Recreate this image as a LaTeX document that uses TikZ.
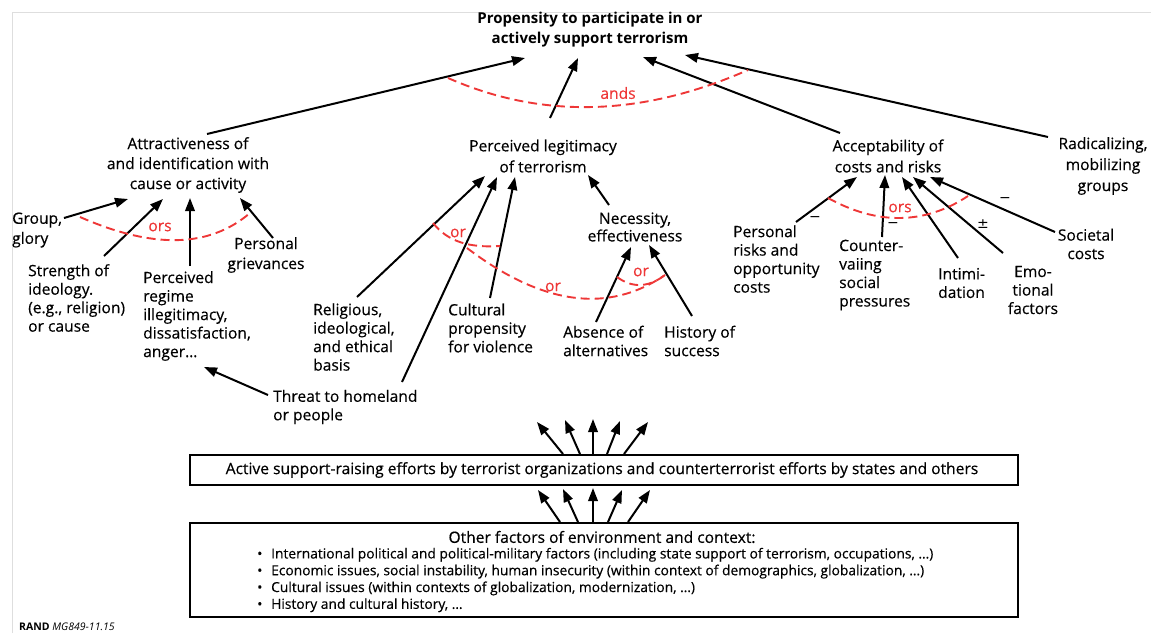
\documentclass[tikz,border=0pt]{standalone}
\usepackage{fontspec}
\setmainfont{Open Sans}[UprightFeatures={FakeBold=0.35}]
\newfontfamily\symf{DejaVu Sans}
\usetikzlibrary{arrows.meta}
\definecolor{orred}{RGB}{238,55,55}
\definecolor{framegray}{RGB}{222,222,222}
\begin{document}
\begin{tikzpicture}[x=1pt,y=-1pt,
  lbl/.style={inner sep=0pt, font=\fontsize{15.6}{18.5}\selectfont, align=center},
  lbll/.style={lbl, align=left, anchor=west},
  arr/.style={line width=2pt, -{Triangle[length=13pt,width=9.5pt]}},
  orarc/.style={orred, line width=1.9pt, dash pattern=on 9pt off 5pt},
  ortxt/.style={orred, inner sep=0pt, font=\fontsize{15.6}{16}\selectfont},
  sign/.style={inner sep=0pt, font=\symf\fontsize{14}{16}\selectfont},
  box/.style={draw, line width=2pt, inner sep=0pt},
]
\useasboundingbox (0,0) rectangle (1151,633);
\draw[framegray, line width=1pt] (12,633) -- (12,12) -- (1151,12);

% ---- nodes ----
\node[lbl, font=\bfseries\fontsize{15}{20}\selectfont] (top) at (590,30) {Propensity to participate in or\\actively support terrorism};
\node[lbl, font=\fontsize{15.6}{20}\selectfont] (attr) at (188,165) {Attractiveness of\\and identification with\\cause or activity};
\node[lbl, font=\fontsize{15.6}{21}\selectfont] (legit) at (543,156) {Perceived legitimacy\\of terrorism};
\node[lbl, font=\fontsize{15.6}{21}\selectfont] (accept) at (888,156) {Acceptability of\\costs and risks};
\node[lbl, font=\fontsize{15.6}{21}\selectfont] (radical) at (1103,166) {Radicalizing,\\mobilizing\\groups};

\node[lbll, font=\fontsize{15.6}{20}\selectfont] (grp) at (12,230) {Group,\\glory};
\node[lbll] (strength) at (28,298) {Strength of\\ideology.\\(e.g., religion)\\or cause};
\node[lbll] (regime) at (143,316) {Perceived\\regime\\illegitimacy,\\dissatisfaction,\\anger\ldots};
\node[lbl, font=\fontsize{15.6}{20}\selectfont] (griev) at (266,255) {Personal\\grievances};
\node[lbll] (relig) at (313,337) {Religious,\\ideological,\\and ethical\\basis};
\node[lbll] (threat) at (273,407) {Threat to homeland\\or people};
\node[lbll] (cult) at (448,328) {Cultural\\propensity\\for violence};
\node[lbl, font=\fontsize{15.6}{17.5}\selectfont] (necess) at (635,227) {Necessity,\\effectiveness};
\node[lbll] (absence) at (563,341) {Absence of\\alternatives};
\node[lbll] (history) at (664,341) {History of\\success};

\node[lbll] (prisk) at (733,259) {Personal\\risks and\\opportunity\\costs};
\node[lbll] (counter) at (839,275) {Counter-\\vaiing\\social\\pressures};
\node[lbll] (intim) at (938,283) {Intimi-\\dation};
\node[lbl] (emo) at (1033,290) {Emo-\\tional\\factors};
\node[lbl] (soc) at (1086,244) {Societal\\costs};

\node[sign] (m1) at (815,219) {−};
\node[sign] (m2) at (893,225) {−};
\node[sign] (m3) at (983,224) {±};
\node[sign] (m4) at (1005,200) {−};

% ---- boxes ----
\node[box, minimum width=828pt, minimum height=30pt] (mid) at (604,470) {};
\node[lbl] (midtxt) at (602,470) {Active support-raising efforts by terrorist organizations and counterterrorist efforts by states and others};
\node[box, minimum width=828pt, minimum height=94pt] (ctx) at (604,570) {};
\node[lbl] (ctxh) at (602,537) {Other factors of environment and context:};
\node[lbll, font=\fontsize{13.8}{16.8}\selectfont] (ctxl) at (257,580) {%
\makebox[14pt][l]{•}International political and political-military factors (including state support of terrorism, occupations, \ldots)\\
\makebox[14pt][l]{•}Economic issues, social instability, human insecurity (within context of demographics, globalization, \ldots)\\
\makebox[14pt][l]{•}Cultural issues (within contexts of globalization, modernization, \ldots)\\
\makebox[14pt][l]{•}History and cultural history, \ldots};
\node[anchor=base west, inner sep=0pt, font=\fontsize{10.5}{12}\selectfont] (rand) at (19,630) {\textbf{RAND} \textit{MG849-11.15}};

% ---- connector end points ----
\coordinate (attr-o) at (207,134);  \coordinate (top-i1) at (525,58);
\coordinate (legit-o) at (550,118); \coordinate (top-i2) at (578,58);
\coordinate (accept-o) at (840,133);\coordinate (top-i3) at (643,57);
\coordinate (radical-o) at (1048,137);\coordinate (top-i4) at (685,55);

\coordinate (grp-o) at (64,218);      \coordinate (attr-i1) at (128,199);
\coordinate (strength-o) at (104,256);\coordinate (attr-i2) at (163,199);
\coordinate (regime-o) at (190,266);  \coordinate (attr-i3) at (190,198);
\coordinate (griev-o) at (273,238);   \coordinate (attr-i4) at (240,198);
\coordinate (threat-o1) at (268,395); \coordinate (regime-i) at (204,367);

\coordinate (relig-o) at (357,297);   \coordinate (legit-i1) at (485,176);
\coordinate (threat-o2) at (402,382); \coordinate (legit-i2) at (497,177);
\coordinate (cult-o) at (490,298);    \coordinate (legit-i3) at (515,177);
\coordinate (necess-o) at (609,205);  \coordinate (legit-i4) at (588,175);

\coordinate (absence-o) at (596,322); \coordinate (necess-i1) at (631,247);
\coordinate (history-o) at (692,316); \coordinate (necess-i2) at (649,245);

\coordinate (prisk-o) at (796,222);   \coordinate (accept-i1) at (857,177);
\coordinate (counter-o) at (882,237); \coordinate (accept-i2) at (885,175);
\coordinate (intim-o) at (958,258);   \coordinate (accept-i3) at (902,177);
\coordinate (emo-o) at (1003,253);    \coordinate (accept-i4) at (913,177);
\coordinate (soc-o) at (1055,232);    \coordinate (accept-i5) at (930,177);

% ---- connectors ----
\draw[arr] (attr-o) -- (top-i1);
\draw[arr] (legit-o) -- (top-i2);
\draw[arr] (accept-o) -- (top-i3);
\draw[arr] (radical-o) -- (top-i4);

\draw[arr] (grp-o) -- (attr-i1);
\draw[arr] (strength-o) -- (attr-i2);
\draw[arr] (regime-o) -- (attr-i3);
\draw[arr] (griev-o) -- (attr-i4);
\draw[arr] (threat-o1) -- (regime-i);

\draw[arr] (relig-o) -- (legit-i1);
\draw[arr] (threat-o2) -- (legit-i2);
\draw[arr] (cult-o) -- (legit-i3);
\draw[arr] (necess-o) -- (legit-i4);

\draw[arr] (absence-o) -- (necess-i1);
\draw[arr] (history-o) -- (necess-i2);

\draw[arr] (prisk-o) -- (accept-i1);
\draw[arr] (counter-o) -- (accept-i2);
\draw[arr] (intim-o) -- (accept-i3);
\draw[arr] (emo-o) -- (accept-i4);
\draw[arr] (soc-o) -- (accept-i5);

% fans
\foreach \bx/\tx/\ty in {-41/-67/422, -24/-39/420, -11/-11/419, 3/16/421, 20/44/422}{
  \draw[arr] ([xshift=\bx pt]mid.north) -- ([xshift=\tx pt]mid.north |- 0,\ty);
}
\foreach \bx/\tx/\ty in {-44/-66/490, -26/-41/489, -11/-11/488, 4/18/490, 24/46/490}{
  \draw[arr] ([xshift=\bx pt]ctx.north) -- ([xshift=\tx pt]ctx.north |- 0,\ty);
}

% ---- or / and arcs ----
\draw[orarc] (448,78) .. controls (541,119) and (641,117) .. (748,70);
\node[ortxt] (ands) at (618,93) {ands};
\draw[orarc] (80,217) .. controls (153,249) and (209,248) .. (250,213);
\node[ortxt] (ors1) at (160,227) {ors};
\draw[orarc] (828,198) .. controls (877,225) and (924,225) .. (968,196);
\node[ortxt] (ors2) at (900,208) {ors};
\draw[orarc] (433,223) .. controls (448,242) and (470,248) .. (500,246);
\node[ortxt] (or1) at (458,233) {or};
\draw[orarc] (467,248) .. controls (542,305) and (608,314) .. (665,275);
\node[ortxt] (or2) at (553,287) {or};
\draw[orarc] (617,277) .. controls (632,288) and (648,288) .. (665,275);
\node[ortxt] (or3) at (641,272) {or};
\end{tikzpicture}
\end{document}
